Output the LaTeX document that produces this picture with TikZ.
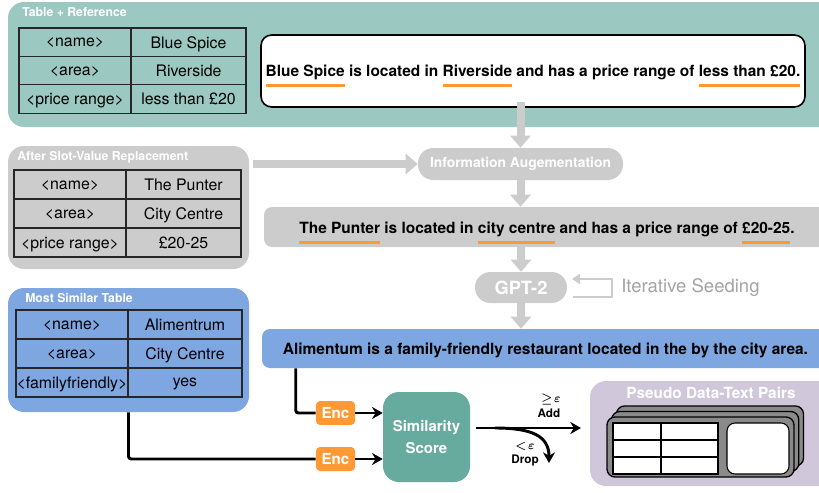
\documentclass[tikz,border=0pt]{standalone}
\usepackage{fontspec}
\setmainfont{TeX Gyre Heros}
\usetikzlibrary{arrows.meta,calc}
\definecolor{teal1}{HTML}{9BC8C1}
\definecolor{teal2}{HTML}{67AB9F}
\definecolor{blue1}{HTML}{7EA6E0}
\definecolor{gray1}{HTML}{CCCCCC}
\definecolor{orange1}{HTML}{FF9933}
\definecolor{lav}{HTML}{D1C7DB}
\definecolor{cardgray}{HTML}{8A8A8A}
\definecolor{seedgray}{HTML}{A3A3A3}
\newcommand\oul[1]{\setbox0\hbox{#1}\leavevmode\rlap{\smash{\color{orange1}\rule[-7.8pt]{\wd0}{2.2pt}}}\box0\relax}
\newcommand\slottable[7]{%
  \draw[tab] (#1,#4) rectangle (#3,{#4+3*#5});
  \draw[tab] (#2,#4) -- (#2,{#4+3*#5});
  \draw[tab] (#1,{#4+#5}) -- (#3,{#4+#5});
  \draw[tab] (#1,{#4+2*#5}) -- (#3,{#4+2*#5});
  \foreach \i/\l/\v in {#6} {
    \node[cell] (#7-\i-l) at ({(#1+#2)/2},{#4+(\i+0.5)*#5}) {\l};
    \node[cell] (#7-\i-v) at ({(#2+#3)/2},{#4+(\i+0.5)*#5}) {\v};
  }}
\begin{document}
\begin{tikzpicture}[x=0.75pt,y=-0.75pt,
  px/.style 2 args={minimum width=#1*0.75pt, minimum height=#2*0.75pt, inner sep=0},
  tab/.style={line width=0.9pt, draw=black!85},
  cell/.style={font=\fontsize{11.9}{13}\selectfont, inner sep=0, text depth=0pt},
  ptitle/.style={font=\bfseries\fontsize{9.2}{11}\selectfont, text=white, inner sep=0, anchor=west},
  sent/.style={font=\bfseries\fontsize{11.6}{13}\selectfont, inner sep=0, text depth=0pt},
  panel/.style={inner sep=0, rounded corners=12pt},
  garrow/.style={draw=gray1, line width=6pt, -{Triangle[width=15pt,length=9pt]}},
  conn/.style={draw=black, line width=2.2pt, rounded corners=2pt},
  carrow/.style={conn, -{Stealth[length=8pt,width=9pt]}},
  encbox/.style={fill=orange1, rounded corners=3pt, text=white, font=\bfseries\fontsize{11.4}{13}\selectfont, px={39}{24}},
  pill/.style={fill=gray1, rounded corners=11.5pt, text=white},
  small/.style={font=\bfseries\boldmath\fontsize{8.8}{10}\selectfont, inner sep=0},
  card/.style={fill=cardgray, draw=black, line width=1pt, rounded corners=6pt, px={187}{60}}]
\useasboundingbox (0,0) rectangle (819,493);
\clip (0,0) rectangle (819,493);
% ---------- panel 1: table + reference
\node[panel, fill=teal1, px={832}{125}] (p1) at (424,64.5) {};
\node[ptitle] (t1) at (22,12) {Table + Reference};
\slottable{19}{131}{246}{28}{28.4}{0/{<name>}/{Blue Spice},1/{<area>}/{Riverside},2/{<price range>}/{less than £20}}{ta}
\node[sent, px={544}{72}, draw=black, line width=1.2pt, fill=white, rounded corners=8pt] (ref) at (533,71)
  {\oul{Blue Spice} is located in \oul{Riverside} and has a price range of \oul{less than £20.}};
% ---------- panel 2: slot-value replacement
\node[panel, fill=gray1, px={241}{123}] (p2) at (128.5,207.5) {};
\node[ptitle] (t2) at (17,157) {After Slot-Value Replacement};
\slottable{14}{126}{241}{170}{29}{0/{<name>}/{The Punter},1/{<area>}/{City Centre},2/{<price range>}/{£20-25}}{tb}
% ---------- middle pipeline
\node[pill, px={205}{32}, font=\bfseries\fontsize{10.4}{12}\selectfont] (infoaug) at (520.5,164) {Information Augementation};
\node[px={567}{40}, fill=gray1, rounded corners=6pt] (aug) at (547.5,227) {};
\node[sent] (augtxt) at (547,227.5) {\oul{The Punter} is located in \oul{city centre} and has a price range of \oul{£20-25}.};
\node[pill, px={92}{31}, font=\bfseries\fontsize{13.7}{16}\selectfont] (gpt) at (521,287.5) {GPT-2};
\node[anchor=west, inner sep=0, text=seedgray, font=\fontsize{13.9}{16}\selectfont] (seed) at (621,288) {Iterative Seeding};
\node[sent, px={567}{39}, fill=blue1, rounded corners=6pt] (gen) at (545.5,348.5)
  {Alimentum is a family-friendly restaurant located in the by the city area.};
\draw[garrow] ([yshift=4.5pt]ref.south -| infoaug.north) -- (infoaug.north);
\draw[garrow] ([xshift=3pt]p2.east |- infoaug.west) -- (infoaug.west);
\draw[garrow] (infoaug.south) -- (infoaug.south |- aug.north);
\draw[garrow] (aug.south -| gpt.north) -- (gpt.north);
\draw[garrow] (gpt.south) -- (gpt.south |- gen.north);
\coordinate (s1) at (573,297);
\coordinate (s2) at (612,297);
\coordinate (s3) at (612,279);
\coordinate (s4) at (572,279);
\draw[draw=gray1, line width=2pt, -{Triangle[width=7.5pt,length=6pt]}] (s1) -- (s2) -- (s3) -- (s4);
% ---------- panel 3: most similar table
\node[panel, fill=blue1, px={241}{124}] (p3) at (128.5,350) {};
\node[ptitle] (t3) at (25,298) {Most Similar Table};
\slottable{16}{128}{242}{310}{29}{0/{<name>}/{Alimentrum},1/{<area>}/{City Centre},2/{<familyfriendly>}/{yes}}{tc}
% ---------- similarity
\node[encbox] (enc1) at (335.5,413) {Enc};
\node[encbox] (enc2) at (335.5,459) {Enc};
\node[px={87}{90}, fill=teal2, rounded corners=12pt, text=white,
  align=center, font=\bfseries\fontsize{11.2}{17}\selectfont] (sim) at (426.5,437) {Similarity\\Score};
\coordinate (g0) at ($(gen.south west)+(34,0)$);
\draw[conn] (g0) |- (enc1.west);
\draw[carrow] (enc1.east) -- (enc1.east -| sim.west);
\draw[conn] (p3.south) |- (enc2.west);
\draw[carrow] (enc2.east) -- (enc2.east -| sim.west);
% ---------- pseudo pairs
\node[panel, fill=lav, px={250}{105}] (pdt) at (715,433.5) {};
\node[inner sep=0, text=white, font=\bfseries\fontsize{11.5}{14}\selectfont] (t4) at (711,393) {Pseudo Data-Text Pairs};
\coordinate (a0) at ($(sim.east)+(6,-9)$);
\coordinate (a1) at (581,428);
\draw[carrow] (a0) -- (a1);
\coordinate (d0) at (495,428);
\coordinate (d3) at (549,463);
\draw[carrow] (d0) .. controls (532,428) and (549,436) .. (d3);
\node[small] (ge) at (551,399) {$\geq\!\varepsilon$};
\node[small] (add) at (549,413) {Add};
\node[small] (lt) at (525,446) {$<\!\varepsilon$};
\node[small] (drop) at (525,460) {Drop};
\node[card] (c3) at (710,436) {};
\node[card] (c2) at (705.25,441.5) {};
\node[card] (c1) at (700.5,447) {};
\node[px={105}{51}, fill=white, draw=black, line width=0.8pt] (ct) at (665.5,448.5) {};
\draw[line width=0.8pt] (ct.north) ++(-4.5,0) -- ++(0,51) (613,440) -- (718,440) (613,457) -- (718,457);
\node[px={62}{51}, fill=white, draw=black, line width=0.8pt, rounded corners=6pt] (cb) at (758,448.5) {};
\end{tikzpicture}
\end{document}
